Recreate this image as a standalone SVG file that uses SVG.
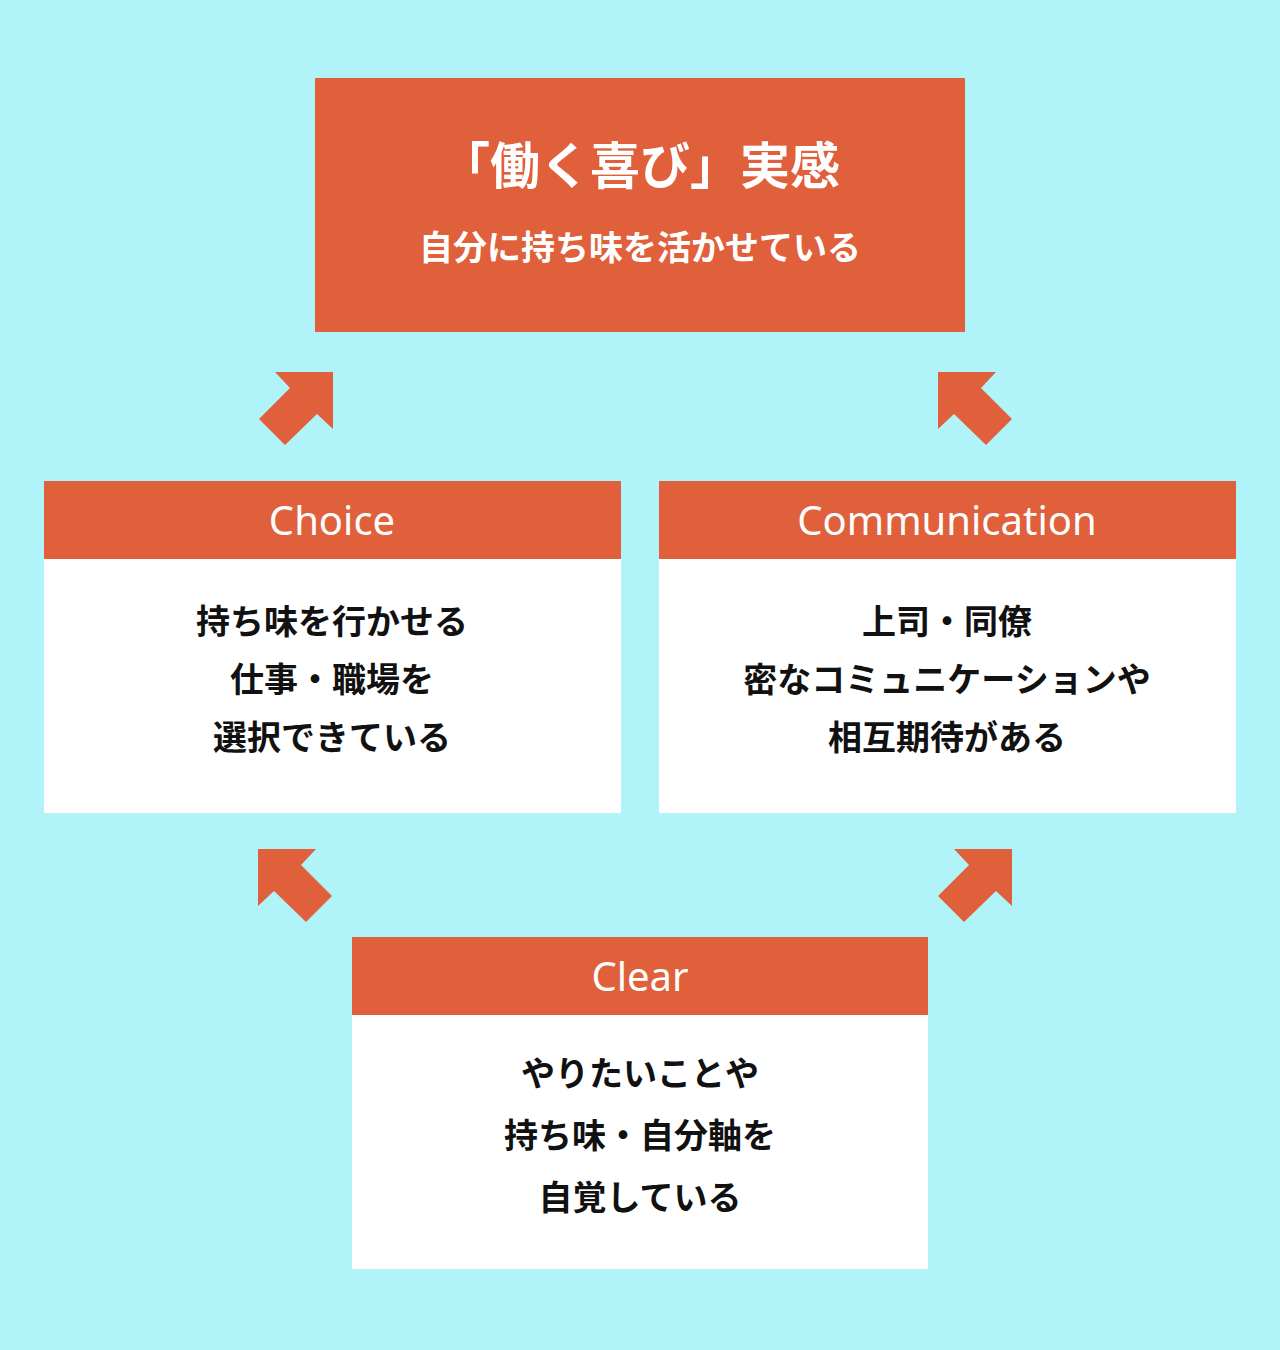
<svg xmlns="http://www.w3.org/2000/svg" width="1280" height="1350" viewBox="0 0 1280 1350">
<style>
.o{fill:#E0603B}.w{fill:#fff}
text{font-family:"Noto Sans CJK JP","Noto Sans",sans-serif;text-anchor:middle;font-weight:bold}
.h{fill:#fff;font-size:40px;font-weight:normal;font-family:"Noto Sans","Noto Sans CJK JP",sans-serif}
.b{fill:#111;font-size:34px}
</style>
<defs><polygon id="ar" points="275,372 333,372 333,429 317,414 285,445 259,419 290,388"/></defs>
<rect width="1280" height="1350" fill="#B0F4FA"/>
<g id="top">
<rect class="o" x="315" y="78" width="650" height="254"/>
<text x="640" y="184" fill="#fff" font-size="50">「働く喜び」実感</text>
<text x="640" y="260" fill="#fff" font-size="34">自分に持ち味を活かせている</text>
</g>
<g id="choice">
<rect class="w" x="44" y="481" width="577" height="332"/>
<rect class="o" x="44" y="481" width="577" height="78"/>
<text class="h" x="332" y="535">Choice</text>
<text class="b" x="332" y="634">持ち味を行かせる</text>
<text class="b" x="332" y="692">仕事・職場を</text>
<text class="b" x="332" y="750">選択できている</text>
</g>
<g id="communication">
<rect class="w" x="659" y="481" width="577" height="332"/>
<rect class="o" x="659" y="481" width="577" height="78"/>
<text class="h" x="947" y="535">Communication</text>
<text class="b" x="947" y="634">上司・同僚</text>
<text class="b" x="947" y="692">密なコミュニケーションや</text>
<text class="b" x="947" y="750">相互期待がある</text>
</g>
<g id="clear">
<rect class="w" x="352" y="937" width="576" height="332"/>
<rect class="o" x="352" y="937" width="576" height="78"/>
<text class="h" x="640" y="991">Clear</text>
<text class="b" x="640" y="1086">やりたいことや</text>
<text class="b" x="640" y="1148">持ち味・自分軸を</text>
<text class="b" x="640" y="1210">自覚している</text>
</g>
<g id="connectors" class="o">
<use href="#ar"/>
<use href="#ar" transform="translate(1271,0) scale(-1,1)"/>
<use href="#ar" transform="translate(1271,477) scale(-1,1) translate(680,0)"/>
<use href="#ar" transform="translate(679,477)"/>
</g>
</svg>
